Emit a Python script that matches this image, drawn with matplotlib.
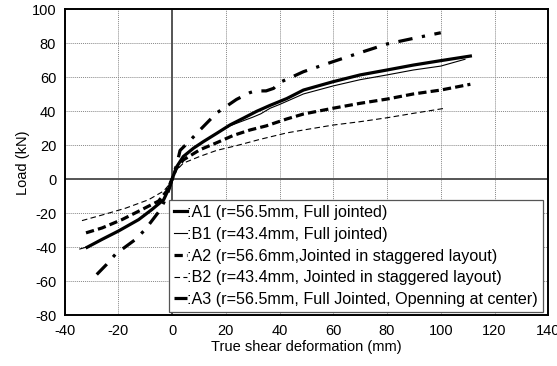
import matplotlib
matplotlib.use("Agg")
import matplotlib.pyplot as plt

plt.rcParams['font.family'] = ['Liberation Sans', 'DejaVu Sans']
plt.rcParams['axes.unicode_minus'] = False

# A1 (thick solid)
a1_x = [-31.6, -26, -19.9, -12.4, -7.5, -3.1, -1.2, 0, 1.8, 4.2, 8, 11.7, 16.6, 21.6, 26.6, 31.5,
        36.5, 42.7, 48.9, 59.9, 70, 80, 89.8, 100, 111]
a1_y = [-40, -35.3, -30.4, -23.7, -17.8, -12, -5.5, 0, 7.5, 13.4, 18.3, 22.2, 27, 32, 36, 40,
        43.5, 47.5, 52.5, 57.4, 61.4, 64.3, 67.2, 69.8, 72.5]
# B1 (thin solid)
b1_x = [-34.3, -31, -26, -20, -12.4, -7.5, -3.1, -1.2, 0, 1.8, 4.2, 8, 11.7, 16.6, 21.6, 26.6,
        30, 33, 36.5, 40, 48.9, 59.9, 70, 80, 89.8, 100, 109]
b1_y = [-41, -39.5, -35.5, -30.6, -23.7, -17.8, -12, -5.5, 0, 7.5, 13.4, 18.3, 22.2, 27, 31.5, 34.5,
        36.5, 38.5, 41.8, 44, 50.2, 54.9, 58.6, 61.4, 64.3, 66.6, 70.6]
# A2 (thick dashed)
a2_x = [-32, -26, -18.6, -11.2, -5, -2, 0, 1.5, 4.2, 10.4, 16.6, 22.8, 29, 35, 42.7, 48.9,
        59.9, 70, 80, 89.8, 100, 111]
a2_y = [-31.5, -28.6, -23.7, -17.8, -12.8, -7, 0, 6, 11.4, 17.4, 21.5, 25.8, 29, 31.4, 35.5, 38.4,
        41.8, 44.7, 47.2, 50.2, 52.5, 55.9]
# B2 (thin dashed)
b2_x = [-33.5, -26, -17.3, -8.7, -3.1, -1, 0, 1.5, 4.2, 10.4, 16.6, 24, 32.5, 42.7, 48.9,
        59.9, 70, 80, 89.8, 101.6]
b2_y = [-24.3, -21, -17, -12, -6.9, -3, 0, 5, 9.5, 13.5, 17, 19.8, 23.4, 27.3, 29,
        31.9, 33.9, 36.2, 38.8, 41.8]
# A3 (thick dash-dot)
a3_x = [-28, -24.3, -21, -13.7, -10, -4.3, -1.9, 0, 1.8, 3, 6.2, 10.4, 16.6, 20.3, 24, 29, 31,
        35, 37.8, 40, 43, 48.9, 59.9, 70, 80, 89.8, 100]
a3_y = [-56, -50, -44, -35.5, -29.6, -17.8, -9.8, 0, 9, 17, 22, 29, 39, 43, 47, 51, 52,
        52, 53.5, 57, 59, 63.3, 69.2, 74.5, 79.6, 82.9, 86.2]

labels = [":A1 (r=56.5mm, Full jointed)",
          ":B1 (r=43.4mm, Full jointed)",
          ":A2 (r=56.6mm,Jointed in staggered layout)",
          ":B2 (r=43.4mm, Jointed in staggered layout)",
          ":A3 (r=56.5mm, Full Jointed, Openning at center)"]

x_ticks = [-40, -20, 0, 20, 40, 60, 80, 100, 120, 140]
y_ticks = [-80, -60, -40, -20, 0, 20, 40, 60, 80, 100]

fig = plt.figure(figsize=(5.57, 3.66), dpi=100)
ax = fig.add_axes([0.1158, 0.1385, 0.8686, 0.8361])

ax.axhline(0, color='#555555', lw=1.4, zorder=1)
ax.axvline(0, color='#555555', lw=1.4, zorder=1)

ax.plot(a1_x, a1_y, color='black', lw=2.3, ls='-', label=labels[0], zorder=3)
ax.plot(b1_x, b1_y, color='black', lw=0.8, ls='-', label=labels[1], zorder=3)
ax.plot(a2_x, a2_y, color='black', lw=2.3, ls=(0, (2.6, 1.3)), label=labels[2], zorder=3)
ax.plot(b2_x, b2_y, color='black', lw=0.8, ls=(0, (5, 3)), label=labels[3], zorder=3)
ax.plot(a3_x, a3_y, color='black', lw=2.3, ls=(0, (4.5, 3, 1, 3)), label=labels[4], zorder=3)

ax.set_xlim(-40, 140)
ax.set_ylim(-80, 100)
ax.set_xticks(x_ticks)
ax.set_yticks(y_ticks)
ax.tick_params(labelsize=10.5, length=0, pad=6)
ax.grid(True, color='#888888', ls=(0, (1, 1)), lw=0.7)
ax.set_axisbelow(True)
for s in ax.spines.values():
    s.set_linewidth(1.4)
    s.set_color('black')

ax.set_xlabel("True shear deformation (mm)", fontsize=10.5, labelpad=2)
ax.set_ylabel("Load (kN)", fontsize=10.5, labelpad=1)

leg = ax.legend(loc='lower right', bbox_to_anchor=(0.989, 0.011), borderaxespad=0,
                fontsize=11.6, handlelength=0.85, handletextpad=0.0, labelspacing=0.42,
                fancybox=False, framealpha=1, edgecolor='#555555', borderpad=0.3)
leg.get_frame().set_linewidth(0.9)

fig.savefig("out.png", dpi=100)
